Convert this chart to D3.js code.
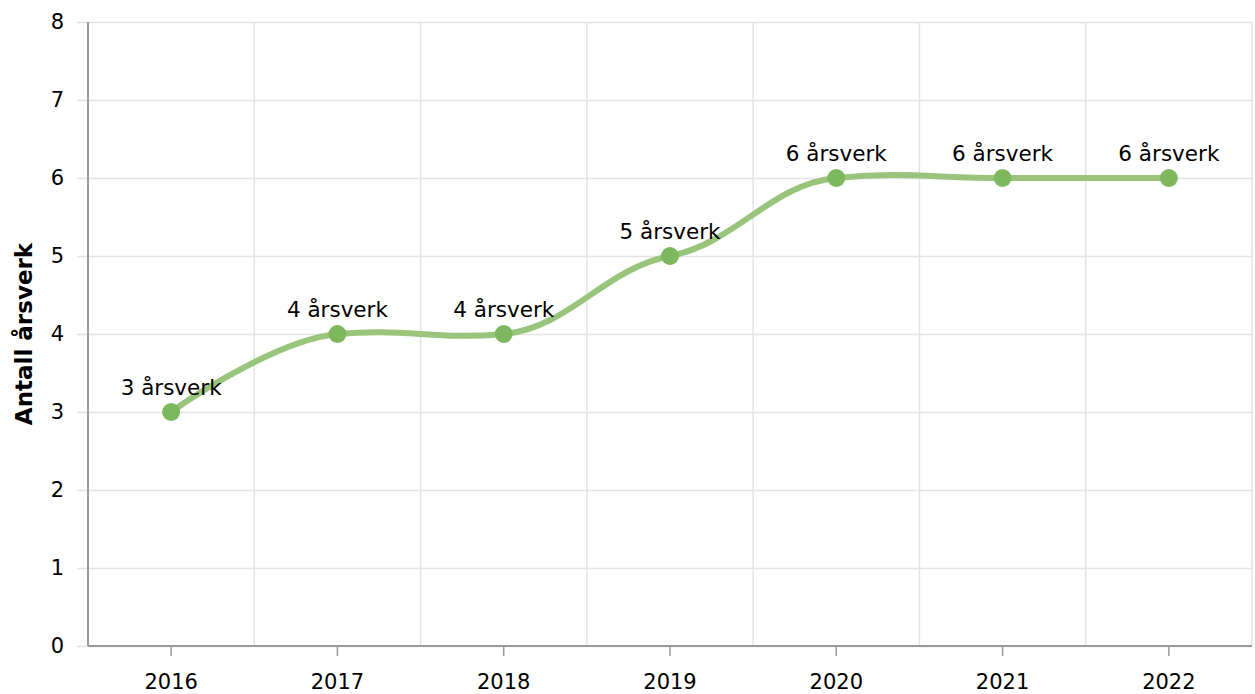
<!DOCTYPE html>
<html>
<head>
<meta charset="utf-8">
<script src="https://cdn.jsdelivr.net/npm/d3@7"></script>
<style>
  body { margin: 0; background: #fff; }
  text { font-family: Verdana, "DejaVu Sans", sans-serif; }
</style>
</head>
<body>
<div id="chart"></div>
<script>
const years = ["2016", "2017", "2018", "2019", "2020", "2021", "2022"];
const values = [3, 4, 4, 5, 6, 6, 6];
const yTicks = [0, 1, 2, 3, 4, 5, 6, 7, 8];
const yTitle = "Antall årsverk";
const unit = "årsverk";

const margin = { top: 22, right: 3, bottom: 48, left: 88 },
      width = 1255 - margin.left - margin.right,
      height = 694 - margin.top - margin.bottom;

const svg = d3.select("#chart")
  .append("svg")
  .attr("width", 1255)
  .attr("height", 694)
  .append("g")
  .attr("transform", `translate(${margin.left},${margin.top})`);

const x = d3.scaleBand()
  .domain(years)
  .range([0, width]);

const y = d3.scaleLinear()
  .domain([0, 8])
  .range([height, 0]);

// spline with long flat-ish handles (like the original chart's smoothing)
function splineCurve(context) {
  let pts;
  return {
    areaStart() {}, areaEnd() {},
    lineStart() { pts = []; },
    point(px, py) { pts.push([px, py]); },
    lineEnd() {
      const n = pts.length;
      const ctrl = (i, dir) => {
        const p = pts[i];
        if (i === 0 || i === n - 1) return p;
        const dx = (dir > 0 ? pts[i + 1][0] - p[0] : p[0] - pts[i - 1][0]) * 0.4;
        const dy = (pts[i + 1][1] - pts[i - 1][1]) / 12;
        return [p[0] + dir * dx, p[1] + dir * dy];
      };
      context.moveTo(pts[0][0], pts[0][1]);
      for (let i = 0; i < n - 1; i++) {
        const c1 = ctrl(i, 1), c2 = ctrl(i + 1, -1);
        context.bezierCurveTo(c1[0], c1[1], c2[0], c2[1], pts[i + 1][0], pts[i + 1][1]);
      }
    }
  };
}

// horizontal grid + tick stubs
svg.append("g")
  .selectAll("line")
  .data(yTicks)
  .join("line")
  .attr("x1", -11)
  .attr("x2", width)
  .attr("y1", d => y(d) + 0.5)
  .attr("y2", d => y(d) + 0.5)
  .attr("stroke", "#e3e3e3")
  .attr("stroke-width", 1.5);

// vertical grid at band edges
const edges = years.map(d => x(d)).concat([width]);
svg.append("g")
  .selectAll("line")
  .data(edges)
  .join("line")
  .attr("x1", d => d)
  .attr("x2", d => d)
  .attr("y1", 0)
  .attr("y2", height)
  .attr("stroke", "#e3e3e3")
  .attr("stroke-width", 1.5);

// y axis labels
svg.append("g")
  .selectAll("text")
  .data(yTicks)
  .join("text")
  .attr("x", -24)
  .attr("y", d => y(d))
  .attr("dy", "0.35em")
  .attr("text-anchor", "end")
  .style("font-size", "21px")
  .attr("fill", "#000")
  .text(d => d);

// axis lines
svg.append("line")
  .attr("x1", 0).attr("x2", 0)
  .attr("y1", 0).attr("y2", height)
  .attr("stroke", "#999")
  .attr("stroke-width", 2);

svg.append("line")
  .attr("x1", 0).attr("x2", width)
  .attr("y1", height).attr("y2", height)
  .attr("stroke", "#999")
  .attr("stroke-width", 2);

// x axis ticks and labels
const xAxis = svg.append("g")
  .attr("transform", `translate(0,${height})`);

xAxis.selectAll("line")
  .data(years)
  .join("line")
  .attr("x1", d => x(d) + x.bandwidth() / 2)
  .attr("x2", d => x(d) + x.bandwidth() / 2)
  .attr("y1", 0)
  .attr("y2", 10)
  .attr("stroke", "#999")
  .attr("stroke-width", 1.5);

xAxis.selectAll("text")
  .data(years)
  .join("text")
  .attr("x", d => x(d) + x.bandwidth() / 2)
  .attr("y", 43)
  .attr("text-anchor", "middle")
  .style("font-size", "21px")
  .attr("fill", "#000")
  .text(d => d);

// y axis title
svg.append("text")
  .attr("transform", "rotate(-90)")
  .attr("x", -height / 2)
  .attr("y", -56)
  .attr("text-anchor", "middle")
  .style("font-size", "23px")
  .style("font-weight", "bold")
  .text(yTitle);

const points = years.map((d, i) => ({ year: d, value: values[i] }));

const line = d3.line()
  .x(d => x(d.year) + x.bandwidth() / 2)
  .y(d => y(d.value))
  .curve(splineCurve);

svg.append("path")
  .datum(points)
  .attr("fill", "none")
  .attr("stroke", "#98c47c")
  .attr("stroke-width", 6)
  .attr("stroke-linecap", "round")
  .attr("d", line);

svg.selectAll(".dot")
  .data(points)
  .join("circle")
  .attr("class", "dot")
  .attr("cx", d => x(d.year) + x.bandwidth() / 2)
  .attr("cy", d => y(d.value))
  .attr("r", 9)
  .attr("fill", "#7db85f");

svg.selectAll(".lbl")
  .data(points)
  .join("text")
  .attr("class", "lbl")
  .attr("x", d => x(d.year) + x.bandwidth() / 2)
  .attr("y", d => y(d.value) - 17)
  .attr("text-anchor", "middle")
  .style("font-size", "21.5px")
  .attr("fill", "#000")
  .text(d => `${d.value} ${unit}`);
</script>
</body>
</html>
